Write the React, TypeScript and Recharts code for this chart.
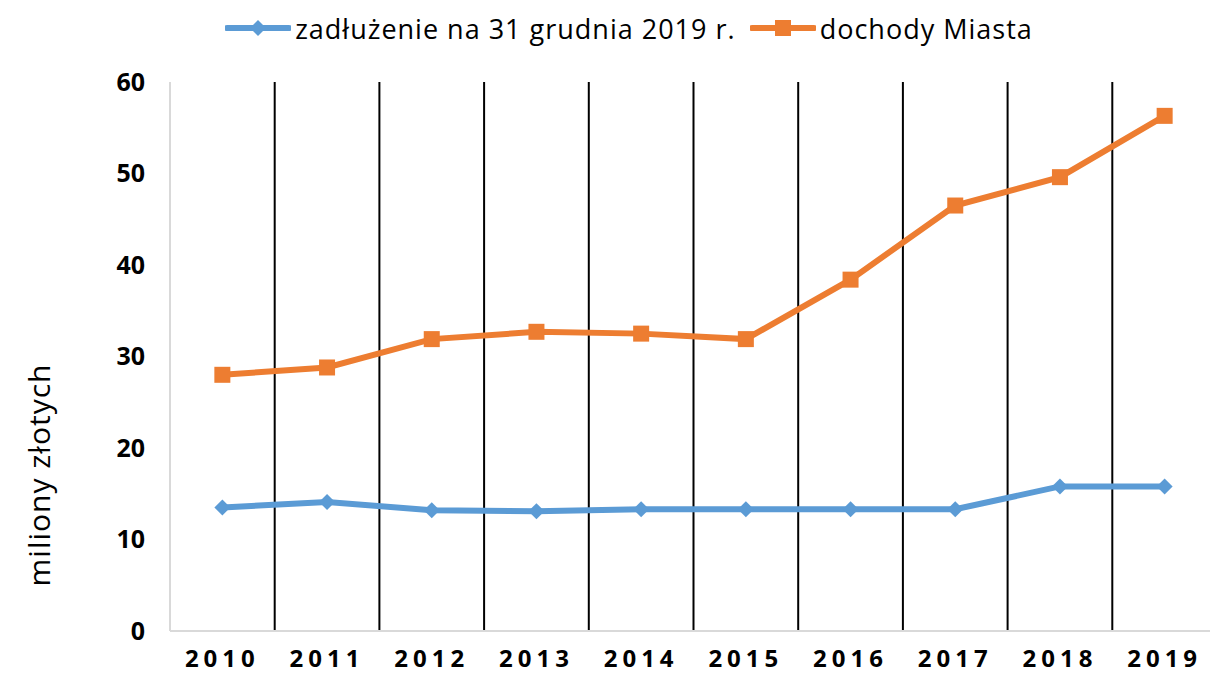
import {
  LineChart,
  Line,
  XAxis,
  YAxis,
  Legend,
  ReferenceLine,
} from 'recharts';

const years = ['2010', '2011', '2012', '2013', '2014', '2015', '2016', '2017', '2018', '2019'];
const zadluzenie = [13.5, 14.1, 13.2, 13.1, 13.3, 13.3, 13.3, 13.3, 15.8, 15.8];
const dochody = [28.0, 28.8, 31.9, 32.7, 32.5, 31.9, 38.4, 46.5, 49.6, 56.3];
const yTicks = [0, 10, 20, 30, 40, 50, 60];
const dividers = [1, 2, 3, 4, 5, 6, 7, 8, 9];

const data = years.map((rok, i) => ({
  rok,
  pos: i + 0.5,
  zadluzenie: zadluzenie[i],
  dochody: dochody[i],
}));

const BLUE = '#5B9BD5';
const ORANGE = '#ED7D31';

const Diamond = (props: any) => {
  const { cx, cy } = props;
  if (cx == null || cy == null) return null;
  return <path d={`M${cx},${cy - 8} L${cx + 8},${cy} L${cx},${cy + 8} L${cx - 8},${cy} Z`} fill={BLUE} />;
};

const Square = (props: any) => {
  const { cx, cy } = props;
  if (cx == null || cy == null) return null;
  return <rect x={cx - 8} y={cy - 8} width={16} height={16} fill={ORANGE} />;
};

const items = [
  { label: 'zadłużenie na 31 grudnia 2019 r.', color: BLUE, shape: 'diamond' },
  { label: 'dochody Miasta', color: ORANGE, shape: 'square' },
];

const LegendContent = () => (
  <div
    style={{
      display: 'flex',
      justifyContent: 'center',
      alignItems: 'center',
      height: 40,
      paddingLeft: 55,
      fontFamily: '"Open Sans", sans-serif',
      fontSize: 27,
      letterSpacing: 1,
      color: '#000',
    }}
  >
    {items.map((it) => (
      <div key={it.label} style={{ display: 'flex', alignItems: 'center', marginRight: 14 }}>
        <svg width={66} height={20} style={{ marginRight: 4 }}>
          <line x1={2} y1={10} x2={64} y2={10} stroke={it.color} strokeWidth={6} strokeLinecap="round" />
          {it.shape === 'diamond' ? (
            <path d="M33,2 L41,10 L33,18 L25,10 Z" fill={it.color} />
          ) : (
            <rect x={25} y={2} width={16} height={16} fill={it.color} />
          )}
        </svg>
        <span>{it.label}</span>
      </div>
    ))}
  </div>
);

export default function App() {
  return (
    <div
      style={{
        position: 'absolute',
        left: 0,
        top: 0,
        width: 1210,
        height: 674,
        overflow: 'hidden',
        background: '#fff',
      }}
    >
      <LineChart
        width={1217}
        height={674}
        data={data}
        margin={{ top: 42, right: 0, bottom: 0, left: 0 }}
      >
        <XAxis
          dataKey="rok"
          scale="band"
          height={43}
          tickLine={false}
          axisLine={{ stroke: '#d9d9d9', strokeWidth: 2 }}
          tickMargin={13}
          tick={{ fill: '#000', fontSize: 24, fontWeight: 700, letterSpacing: 5, fontFamily: '"Open Sans", sans-serif' }}
        />
        <XAxis
          xAxisId="grid"
          dataKey="pos"
          type="number"
          domain={[0, 10]}
          allowDataOverflow
          hide
        />
        <YAxis
          width={170}
          domain={[0, 60]}
          ticks={yTicks}
          tickLine={false}
          tickSize={0}
          tickMargin={25}
          axisLine={{ stroke: '#d9d9d9', strokeWidth: 2 }}
          tick={{ fill: '#000', fontSize: 25, fontWeight: 700, fontFamily: '"Open Sans", sans-serif' }}
        />
        {dividers.map((d) => (
          <ReferenceLine key={d} xAxisId="grid" x={d} stroke="#000" strokeWidth={2} />
        ))}
        <Legend verticalAlign="top" align="center" content={<LegendContent />} wrapperStyle={{ top: 8 }} />
        <Line
          dataKey="zadluzenie"
          stroke={BLUE}
          strokeWidth={6}
          dot={<Diamond />}
          activeDot={false}
          isAnimationActive={false}
        />
        <Line
          dataKey="dochody"
          stroke={ORANGE}
          strokeWidth={6}
          dot={<Square />}
          activeDot={false}
          isAnimationActive={false}
        />
      </LineChart>
      <div
        style={{
          position: 'absolute',
          left: 38,
          top: 475,
          transform: 'translate(-50%, -50%) rotate(-90deg)',
          fontFamily: '"Open Sans", sans-serif',
          fontSize: 30,
          letterSpacing: 1,
          whiteSpace: 'nowrap',
          color: '#000',
        }}
      >
        miliony złotych
      </div>
    </div>
  );
}
